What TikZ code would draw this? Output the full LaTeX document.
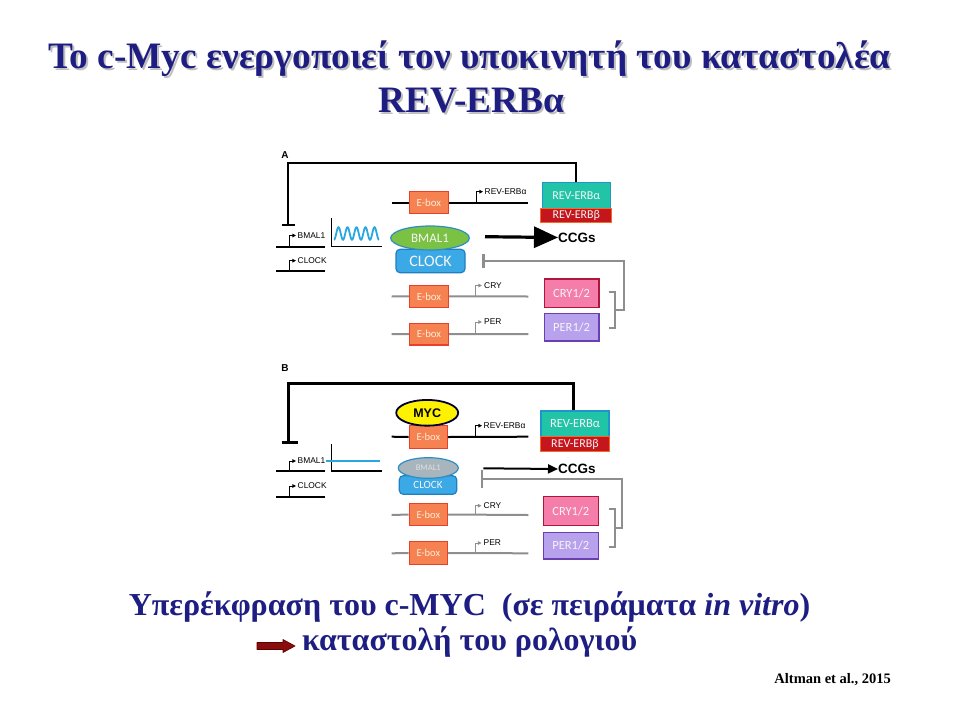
\documentclass[tikz,border=0pt]{standalone}
\usepackage{fontspec}
\setmainfont{Liberation Serif}
\newfontfamily\titlefont{Liberation Serif}
\newfontfamily\calfont{Carlito}
\newfontfamily\arsfont{Liberation Sans}
\usetikzlibrary{arrows.meta,shapes.geometric}
\definecolor{navy}{HTML}{1E1E82}
\definecolor{eboxf}{HTML}{F58250}
\definecolor{eboxd}{HTML}{E8402A}
\definecolor{ralf}{HTML}{22C4A8}
\definecolor{rald}{HTML}{1E96CC}
\definecolor{rbf}{HTML}{C4161C}
\definecolor{rbd}{HTML}{F26B2B}
\definecolor{bmf}{HTML}{7BC143}
\definecolor{bmd}{HTML}{2C8FC4}
\definecolor{clf}{HTML}{3AA9E6}
\definecolor{cld}{HTML}{1F7FC0}
\definecolor{cryf}{HTML}{F47DAA}
\definecolor{cryd}{HTML}{B0163C}
\definecolor{perf}{HTML}{B8A2EE}
\definecolor{perd}{HTML}{6A3FB0}
\definecolor{gline}{HTML}{8E8E8E}
\definecolor{wave}{HTML}{29A8E0}
\definecolor{myc}{HTML}{FFF200}
\definecolor{bmgrey}{HTML}{A9B5BD}
\definecolor{darr}{HTML}{8A0C0C}
\tikzset{
  box/.style={rectangle,line width=1.2pt,inner sep=0pt,font=\calfont\fontsize{12}{12}\selectfont,text=white!92!gray},
  ebox/.style={box,fill=eboxf,draw=eboxd,minimum width=39pt,minimum height=21.6pt,font=\calfont\fontsize{10.8}{10.8}\selectfont,text=white!85!orange},
  ralpha/.style={box,fill=ralf,draw=rald,minimum width=68pt,minimum height=26pt},
  rbeta/.style={box,fill=rbf,draw=rbd,minimum width=71pt,minimum height=14.4pt},
  crybox/.style={box,fill=cryf,draw=cryd,minimum width=54.7pt,minimum height=28.7pt,font=\calfont\fontsize{12.5}{12.5}\selectfont},
  perbox/.style={box,fill=perf,draw=perd,minimum width=54.7pt,minimum height=27.7pt,font=\calfont\fontsize{12.5}{12.5}\selectfont},
  bmell/.style={ellipse,fill=bmf,draw=bmd,line width=1.2pt,inner sep=0pt,text=white!92!gray},
  clrect/.style={rectangle,rounded corners=4pt,fill=clf,draw=cld,line width=1.2pt,inner sep=0pt,text=white!92!gray},
  gene/.style={black,line width=2pt},
  ggene/.style={gline,line width=2pt},
  prom/.style={line width=1pt,-{Triangle[length=3.6pt,width=3.6pt]}},
  glabel/.style={anchor=west,inner sep=0.5pt,font=\arsfont\fontsize{8.4}{8.4}\selectfont},
  panel/.style={anchor=center,inner sep=0pt,font=\arsfont\bfseries\fontsize{10}{10}\selectfont},
  ccg/.style={anchor=west,inner sep=0pt,font=\arsfont\bfseries\fontsize{13.5}{13.5}\selectfont},
  ttl/.style={inner sep=0pt,anchor=base,text=navy,font=\titlefont\bfseries\fontsize{37.3}{37.3}\selectfont},
  ttlsh/.style={inner sep=0pt,anchor=base,text=gray!50,font=\titlefont\bfseries\fontsize{37.3}{37.3}\selectfont},
  bot/.style={inner sep=0pt,anchor=base,text=navy,font=\titlefont\bfseries\fontsize{32}{32}\selectfont},
}
\begin{document}
\begin{tikzpicture}[x=1pt,y=-1pt]
\useasboundingbox (0,0) rectangle (960,720);
% ---------- title ----------
\node[ttlsh] at (471.5,70) {Το c-Myc ενεργοποιεί τον υποκινητή του καταστολέα};
\node[ttl] (t1) at (469.5,68) {Το c-Myc ενεργοποιεί τον υποκινητή του καταστολέα};
\node[ttlsh] at (473.5,114) {REV-ERBα};
\node[ttl] (t2) at (471.5,112) {REV-ERBα};

% =============== Panel A ===============
\node[panel] (lA) at (285,155) {A};
\node[ralpha] (raA) at (576.3,195.3) {REV-ERBα};
\node[rbeta] (rbA) at (576.3,215.5) {REV-ERBβ};
\coordinate (tA) at (288.3,225);
\coordinate (cA) at (288.3,163.3);
\draw[line width=2.2pt] (raA.north) |- (cA) -- (tA);
\draw[line width=2.6pt] (281.5,225) -- (295,225);
% BMAL1 gene
\draw[gene] (276,246.7) -- (325,246.7);
\draw[prom] (289.3,246.7) |- (296,235.5);
\node[glabel] (gbA) at (297,235.5) {BMAL1};
% oscillation
\draw[line width=1.4pt] (331.7,218) -- (331.7,246.7) -- (381.7,246.7);
\draw[wave,line width=1.8pt,domain=0:45,samples=120] plot ({334+\x},{233.5+6.3*cos(\x/9*360)});
% CLOCK gene
\draw[gene] (276,271) -- (325,271);
\draw[prom] (289.3,271) |- (296,260.7);
\node[glabel] (gcA) at (297,260.7) {CLOCK};
% REV-ERB gene with E-box
\node[ebox] (e1A) at (428.8,202.5) {E-box};
\draw[gene] (391.7,202.5) -- (e1A.west);
\draw[gene] (e1A.east) -- (528.3,202.5);
\draw[prom,black] (476,202.5) |- (483,191.7);
\node[glabel] (grA) at (484,191.7) {REV-ERBα};
% BMAL1/CLOCK complex
\node[clrect,minimum width=69pt,minimum height=23.4pt,font=\calfont\fontsize{16}{16}\selectfont] (clA) at (430.5,261) {CLOCK};
\node[bmell,minimum width=78.6pt,minimum height=24pt,font=\calfont\fontsize{13}{13}\selectfont] (bmA) at (430,238) {BMAL1};
% CCGs
\node[ccg] (ccA) at (558,237.5) {CCGs};
\draw[line width=3.2pt,-{Triangle[length=24pt,width=21pt]}] (485,236.7) -- (ccA.west);
% CRY / PER genes
\node[ebox] (e2A) at (429,296.3) {E-box};
\draw[ggene] (391.7,296.5) -- (e2A.west);
\draw[ggene] (e2A.east) -- (528.3,296.5);
\draw[prom,gline] (475.7,296.5) |- (482,285.5);
\node[glabel] (gcrA) at (483.5,285.5) {CRY};
\node[ebox] (e3A) at (429,334.2) {E-box};
\draw[ggene] (391.7,334) -- (e3A.west);
\draw[ggene] (e3A.east) -- (528.3,334);
\draw[prom,gline] (475.7,334) |- (482,322);
\node[glabel] (gpA) at (483.5,322) {PER};
\node[crybox] (cryA) at (571.6,293.4) {CRY1/2};
\node[perbox] (perA) at (571.6,327.2) {PER1/2};
% grey inhibition
\coordinate (gtA) at (483.5,260.5);
\coordinate (gcA1) at (623.5,260.5);
\coordinate (gmA) at (623.5,310);
\draw[gline,line width=2pt] (609,291.7) -- (615,291.7) -- (615,328) -- (609,328);
\draw[gline,line width=2pt] (615,310) -- (gmA) -- (gcA1) -- (gtA);
\draw[gline,line width=2.2pt] (483.5,254) -- (483.5,267.5);

% =============== Panel B ===============
\node[panel] (lB) at (285,368.5) {B};
\node[ralpha,minimum height=25.7pt,font=\calfont\fontsize{12.5}{12.5}\selectfont] (raB) at (575,423.8) {REV-ERBα};
\node[rbeta,minimum width=68.6pt,minimum height=15pt] (rbB) at (575,444.2) {REV-ERBβ};
\coordinate (tB) at (288.3,442.3);
\coordinate (cB) at (288.3,383.3);
\draw[line width=3.2pt] (raB.north -| 573.3,0) |- (cB) -- (tB);
\draw[line width=3.4pt] (281.5,442.3) -- (298.3,442.3);
% BMAL1 gene
\draw[gene] (276,471) -- (325,471);
\draw[prom] (289.3,471) |- (296,461);
\node[glabel] (gbB) at (297,461) {BMAL1};
\draw[line width=1.4pt] (331.7,444.3) -- (331.7,471) -- (381.7,471);
\draw[wave,line width=1.5pt] (gbB.east) -- (380,461);
% CLOCK gene
\draw[gene] (276,496.7) -- (325,496.7);
\draw[prom] (289.3,496.7) |- (296,486);
\node[glabel] (gcB) at (297,486) {CLOCK};
% MYC + E-box
\node[ebox,minimum width=38pt,minimum height=22.6pt,font=\calfont\fontsize{10.5}{10.5}\selectfont] (e1B) at (428.3,437) {E-box};
\draw[gene] (391.7,436.7) -- (e1B.west);
\draw[gene] (e1B.east) -- (528.3,436.7);
\draw[prom,black] (475,436.7) |- (482,425.7);
\node[glabel] (grB) at (483,425.7) {REV-ERBα};
\node[ellipse,fill=myc,draw=black!80!blue,line width=1.8pt,minimum width=62pt,minimum height=25.7pt,inner sep=0pt,font=\arsfont\bfseries\fontsize{12.5}{12.5}\selectfont] (myc) at (427.2,412.8) {MYC};
% complex
\node[clrect,minimum width=57.4pt,minimum height=18.6pt,font=\calfont\fontsize{11}{11}\selectfont] (clB) at (428,485) {CLOCK};
\node[bmell,fill=bmgrey,minimum width=60pt,minimum height=20.6pt,font=\calfont\fontsize{8.6}{8.6}\selectfont,text=white!75!gray] (bmB) at (428.3,468) {BMAL1};
% CCGs
\node[ccg] (ccB) at (558,469) {CCGs};
\draw[line width=2pt,-{Triangle[length=10pt,width=9pt]}] (483.3,468.3) -- (ccB.west);
% CRY / PER
\node[ebox,minimum width=38pt,minimum height=22.4pt,font=\calfont\fontsize{10.5}{10.5}\selectfont] (e2B) at (428.3,514.5) {E-box};
\draw[ggene] (391.7,515) -- (e2B.west);
\draw[ggene] (e2B.east) -- (528.3,515);
\draw[prom,gline] (475,515) |- (481.5,505.7);
\node[glabel] (gcrB) at (483,505.7) {CRY};
\node[ebox,minimum width=38pt,minimum height=22.6pt,font=\calfont\fontsize{10.5}{10.5}\selectfont] (e3B) at (428.3,553) {E-box};
\draw[ggene] (391.7,553.3) -- (e3B.west);
\draw[ggene] (e3B.east) -- (528.3,553.3);
\draw[prom,gline] (475,553.3) |- (481.5,543);
\node[glabel] (gpB) at (483,543) {PER};
\node[crybox,minimum width=55pt,minimum height=29pt] (cryB) at (570.8,511.2) {CRY1/2};
\node[perbox,minimum width=55pt,minimum height=26.7pt] (perB) at (570.8,545.7) {PER1/2};
\coordinate (gcB1) at (621.7,479);
\coordinate (gmB) at (621.7,527.7);
\draw[gline,line width=2pt] (609.3,509) -- (615,509) -- (615,546.7) -- (609.3,546.7);
\draw[gline,line width=2pt] (615,527.7) -- (gmB) -- (gcB1) -- (481.7,479);
\draw[gline,line width=2.2pt] (481.7,470) -- (481.7,488.3);

% ---------- bottom text ----------
\node[bot] (b1) at (469.5,615) {Υπερέκφραση του c-MYC\ \ (σε πειράματα \textit{in vitro})};
\node[bot,anchor=base west] (b2) at (302,650) {καταστολή του ρολογιού};
\coordinate (ar0) at (257,646);
\fill[darr,draw=red!35!black,line width=0.6pt,line join=round]
  (257,642.5) -- (283,642.5) -- (283,639.5) -- (295,646) -- (283,652.5) -- (283,649.5) -- (257,649.5) -- cycle;
\node[inner sep=0pt,anchor=base east,font=\titlefont\bfseries\fontsize{14.5}{14.5}\selectfont] (ref) at (891,683) {Altman et al., 2015};
\end{tikzpicture}
\end{document}
